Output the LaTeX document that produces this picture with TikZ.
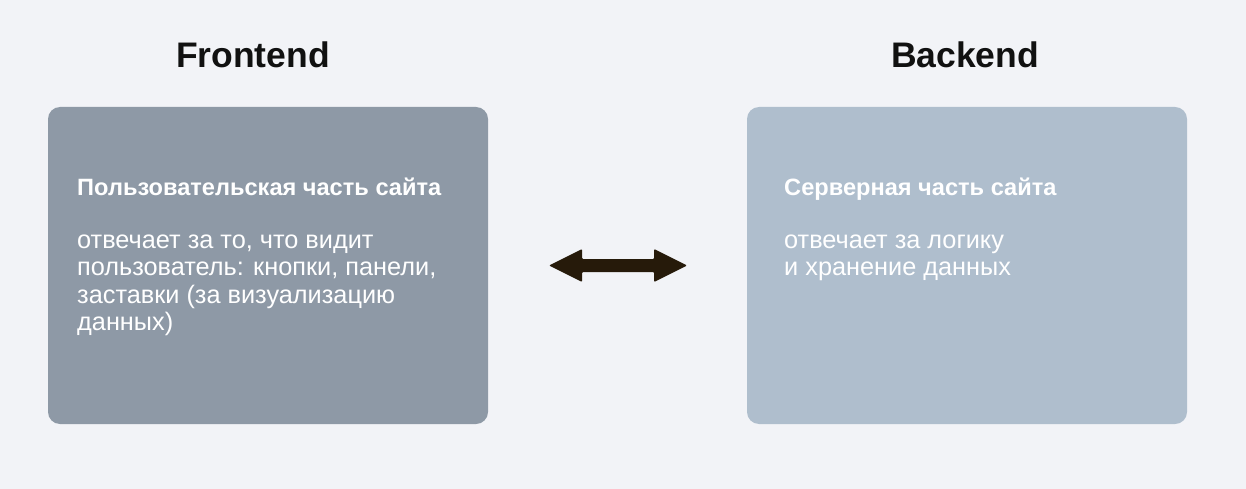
\documentclass[tikz,border=0pt]{standalone}
\usepackage{fontspec}
\setmainfont{Liberation Sans}
\usetikzlibrary{calc}
\definecolor{bg}{HTML}{F2F3F7}
\definecolor{leftbox}{HTML}{8E99A6}
\definecolor{rightbox}{HTML}{AFBECD}
\definecolor{arrowc}{HTML}{261A0A}
\definecolor{titlec}{HTML}{111111}
\begin{document}
\begin{tikzpicture}[x=1pt,y=-1pt,
  card/.style={rounded corners=12pt},
  heading/.style={font=\bfseries\fontsize{35.5}{40}\selectfont, text=titlec, inner sep=0pt, anchor=base},
  subhead/.style={font=\bfseries\fontsize{23.6}{27}\selectfont, text=white, inner sep=0pt, anchor=base west},
  body/.style={font=\fontsize{25.3}{27.5}\selectfont, text=white, inner sep=0pt, anchor=base west}]
\fill[bg] (0,0) rectangle (1246,489);
\useasboundingbox (0,0) rectangle (1246,489);
\fill[leftbox,card] (48,107) rectangle (488,424);
\fill[rightbox,card] (747,107) rectangle (1187,424);
\node[heading] (fe) at (253,68) {Frontend};
\node[heading] (be) at (965,68) {Backend};
\node[subhead] (fs) at (77,195) {Пользовательская часть сайта};
\node[body] (fb1) at (77,248) {отвечает за то, что видит};
\node[body] (fb2) at (77,275.5) {пользователь: кнопки, панели,};
\node[body] (fb3) at (77,303) {заставки (за визуализацию};
\node[body] (fb4) at (77,330.5) {данных)};
\node[subhead] (bs) at (784,195) {Серверная часть сайта};
\node[body] (bb1) at (784,248) {отвечает за логику};
\node[body] (bb2) at (784,275.5) {и хранение данных};
\coordinate (al) at (549,265.5);
\coordinate (ar) at (687,265.5);
\fill[arrowc, rounded corners=1pt] (al) -- ++(33,-16.5) -- ++(0,10) -- ($(ar)+(-33,-6.5)$) -- ++(0,-10) -- (ar) -- ++(-33,16.5) -- ++(0,-10) -- ($(al)+(33,6.5)$) -- ++(0,10) -- cycle;
\end{tikzpicture}
\end{document}
